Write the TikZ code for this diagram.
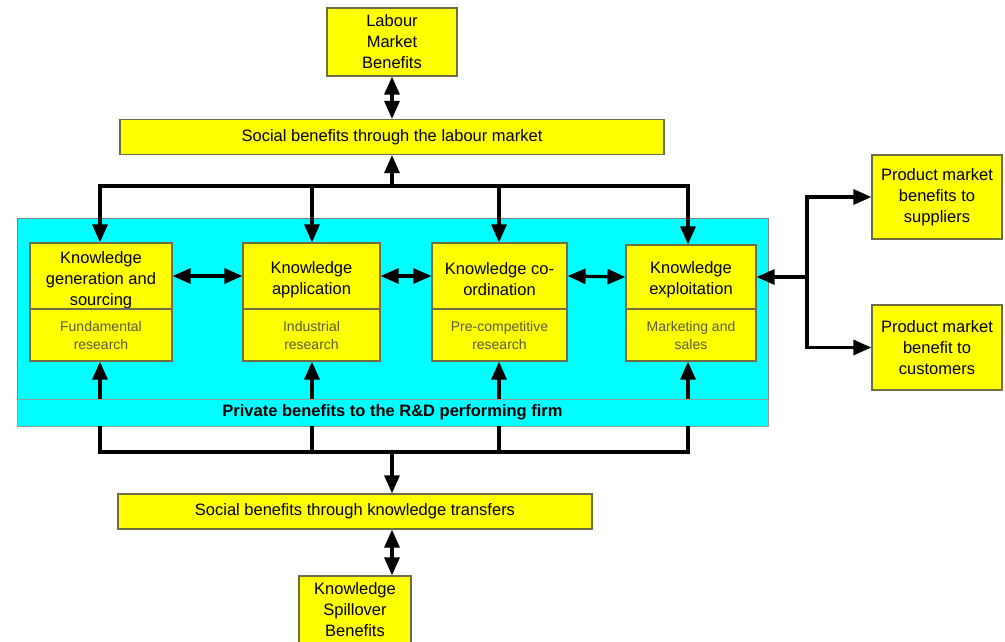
\documentclass[tikz,border=0pt]{standalone}
\usepackage{fontspec}
\setmainfont{Liberation Sans}
\usetikzlibrary{arrows.meta,calc}
\definecolor{byel}{HTML}{FFFF00}
\definecolor{bcyan}{HTML}{00FFFF}
\definecolor{bbord}{HTML}{6E6E45}
\definecolor{subtxt}{HTML}{5A5A3A}
\tikzset{
  ybox/.style={draw=bbord, line width=1.2pt, fill=byel, inner sep=0pt, align=center,
    font=\fontsize{16.5}{21}\selectfont},
  ysub/.style={draw=bbord, line width=1.2pt, fill=byel, inner sep=0pt, align=center,
    font=\fontsize{14}{18}\selectfont, text=subtxt},
  ktxt/.style={inner sep=0pt, align=center, font=\fontsize{16.5}{21}\selectfont},
  conn/.style={line width=3.2pt, draw=black},
  arr/.style={conn, -{Triangle[length=18pt,width=15pt]}},
  darr/.style={conn, {Triangle[length=18pt,width=15pt]}-{Triangle[length=18pt,width=15pt]}},
}
\begin{document}
\begin{tikzpicture}[x=1pt,y=-1pt]
\useasboundingbox (0,0) rectangle (1005,641);
\begin{scope}
\clip (0,0) rectangle (1005,641);
% top boxes
\node[ybox, minimum width=130pt, minimum height=68pt] (lab) at (392,42) {Labour\\Market\\Benefits};
\node[ybox, minimum width=544pt, minimum height=35pt] (soc1) at (392,137) {Social benefits through the labour market};
% panel
\node[draw=gray, line width=1pt, fill=bcyan, minimum width=751pt, minimum height=208pt, inner sep=0pt] (panel) at (392.5,322) {};
\node[draw=gray!80, line width=0.8pt, fill=bcyan, minimum width=751pt, minimum height=27pt, inner sep=0pt,
  font=\fontsize{16.5}{18}\selectfont\bfseries] (strip) at (392.5,412.5) {Private benefits to the R\&D performing firm};
% knowledge boxes
\node[ybox, minimum width=142pt, minimum height=66pt] (k1t) at (101,276) {};
\node[ktxt] (k1l) at ([yshift=-4pt]k1t.center) {Knowledge\\generation and\\sourcing};
\node[ysub, minimum width=142pt, minimum height=52pt] (k1b) at (101,335) {Fundamental\\research};
\node[ybox, minimum width=137pt, minimum height=66pt] (k2t) at (311.5,276) {};
\node[ktxt] (k2l) at ([yshift=-4pt]k2t.center) {Knowledge\\application};
\node[ysub, minimum width=137pt, minimum height=52pt] (k2b) at (311.5,335) {Industrial\\research};
\node[ybox, minimum width=135pt, minimum height=66pt] (k3t) at (499.5,276) {};
\node[ktxt] (k3l) at ([yshift=-3pt]k3t.center) {Knowledge co-\\ordination};
\node[ysub, minimum width=135pt, minimum height=52pt] (k3b) at (499.5,335) {Pre-competitive\\research};
\node[ybox, minimum width=130pt, minimum height=64pt] (k4t) at (691,277) {};
\node[ktxt] (k4l) at ([yshift=-3pt]k4t.center) {Knowledge\\exploitation};
\node[ysub, minimum width=130pt, minimum height=52pt] (k4b) at (691,335) {Marketing and\\sales};
% bottom boxes
\node[ybox, minimum width=474pt, minimum height=35pt] (soc2) at (355,511.5) {Social benefits through knowledge transfers};
\node[ybox, minimum width=112pt, minimum height=68pt] (spill) at (355,610) {Knowledge\\Spillover\\Benefits};
% right boxes
\node[ybox, minimum width=130pt, minimum height=84pt] (sup) at (937,197) {Product market\\benefits to\\suppliers};
\node[ybox, minimum width=130pt, minimum height=85pt] (cus) at (937,347.5) {Product market\\benefit to\\customers};
\end{scope}
% coordinates
\coordinate (tl) at (392,186);
\coordinate (bl) at (392,452);
\coordinate (rj) at (807,277);
% top connectors
\draw[darr] (tl |- lab.south) -- (tl |- soc1.north);
\draw[arr] (tl) -- (tl |- soc1.south);
\draw[conn, line cap=rect] (100,186) -- (688,186);
\foreach \k/\xx in {k1t/100,k2t/312,k3t/499,k4t/688}{
  \draw[arr] (\xx,186) -- (\xx,0 |- \k.north);
}
% between boxes
\draw[darr] (k1t.east) -- (k2t.west);
\draw[darr] (k2t.east) -- (k3t.west);
\draw[darr] (k3t.east) -- (k4t.west);
% up arrows from strip
\foreach \k/\xx in {k1b/100,k2b/312,k3b/499,k4b/688}{
  \draw[arr] (\xx,0 |- strip.north) -- (\xx,0 |- \k.south);
  \draw[conn] (\xx,0 |- strip.south) -- (\xx,452);
}
\draw[conn, line cap=rect] (100,452) -- (688,452);
\draw[arr] (bl) -- (bl |- soc2.north);
\draw[darr] (bl |- soc2.south) -- (bl |- spill.north);
% right connectors
\draw[arr] (rj) -- (k4t.east);
\draw[arr] (rj) |- (sup.west);
\draw[arr] (rj) |- (cus.west);
\end{tikzpicture}
\end{document}
